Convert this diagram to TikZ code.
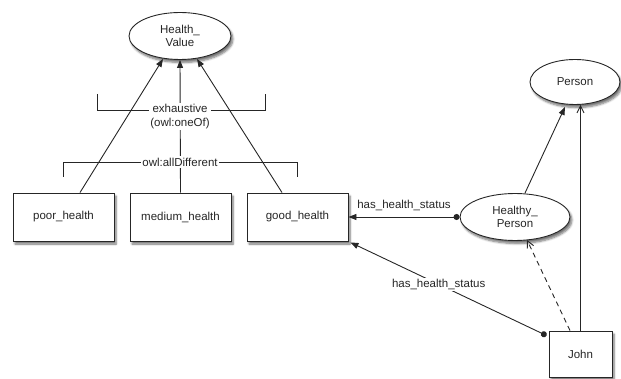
\documentclass[tikz,border=0pt]{standalone}
\usepackage{fontspec}
\setmainfont{Liberation Sans}
\usetikzlibrary{arrows.meta,shadows.blur,shapes.geometric,calc}
\begin{document}
\begin{tikzpicture}[x=1pt,y=-1pt,
  lbl/.style={font=\fontsize{11.5}{13.5}\selectfont, text=black!85, inner sep=1.5pt},
  shad/.style={blur shadow={shadow xshift=2pt, shadow yshift=-3pt, shadow blur steps=6, shadow opacity=55}},
  box/.style={lbl, draw=black!85, line width=0.9pt, fill=white, minimum width=101pt, minimum height=48pt, inner sep=0pt, shad},
  cls/.style={lbl, ellipse, draw=black!85, line width=0.9pt, fill=white, inner sep=0pt, align=center, shad},
  conn/.style={line width=0.9pt, draw=black!85},
  fa/.style={conn, -{Triangle[length=8pt,width=6pt]}},
  oa/.style={conn, -{Straight Barb[length=7pt,width=7pt]}},
  da/.style={conn, {Circle[length=6pt]}-{Triangle[length=8pt,width=6pt]}},
  brk/.style={line width=0.9pt, draw=black!85},
  tag/.style={lbl, fill=white, align=center}
]
\useasboundingbox (0,0) rectangle (621,379);

% classes and individuals
\node[cls, minimum width=102pt, minimum height=47pt] (hv) at (180,36) {Health\_\\Value};
\node[cls, minimum width=90pt, minimum height=45pt] (person) at (575,82) {Person};
\node[cls, minimum width=110pt, minimum height=47pt] (hp) at (515,217) {Healthy\_\\Person};

\node[box] (poor) at (63.5,217) {poor\_health};
\node[box] (medium) at (180.5,217) {medium\_health};
\node[box] (good) at (297.5,217) {good\_health};
\node[box, minimum width=63pt, minimum height=46pt] (john) at (580.5,354) {John};

% brackets
\draw[brk] (97,94) -- (97,110) -- (265,110) -- (265,94);
\draw[brk] (63,177) -- (63,162) -- (297,162) -- (297,177);

% subclass arrows
\draw[fa] ([xshift=16.5pt]poor.north) -- ($(hv.south)+(-17,-1)$);
\draw[fa] (medium.north) -- (hv.south);
\draw[fa] ([xshift=-15.5pt]good.north) -- ($(hv.south)+(17,-1)$);
\draw[fa] ([xshift=10pt]hp.north) -- ($(person.south)+(-10,2)$);

% instance arrows
\draw[oa] (john.north) -- (john.north |- person.south);
\draw[oa, dashed, dash pattern=on 5pt off 4pt] ([xshift=-10.5pt]john.north) -- ($(hp.south)+(12,-1)$);

% properties
\draw[da] (hp.west) -- node[lbl, above=4pt] (p1) {has\_health\_status} (good.east);
\draw[da] ([xshift=-2pt,yshift=-5pt]john.north west) -- node[tag, pos=0.55] (p2) {has\_health\_status} ([xshift=2pt,yshift=-1pt]good.south east);

% bracket texts
\node[tag] (exh) at (180,116.5) {exhaustive\\(owl:oneOf)};
\node[tag] (alld) at (180,162) {owl:allDifferent};
\end{tikzpicture}
\end{document}
